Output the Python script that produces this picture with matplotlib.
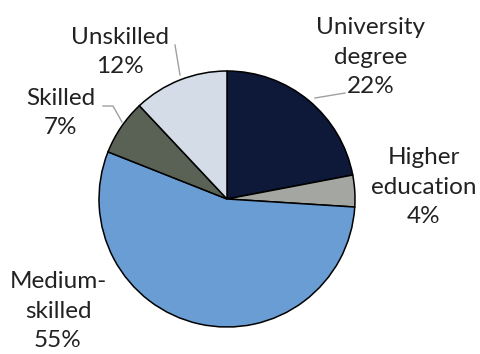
import matplotlib.pyplot as plt

# share of workers by skill level
categories = ['University\ndegree', 'Higher\neducation', 'Medium-\nskilled', 'Skilled', 'Unskilled']
shares = [22, 4, 55, 7, 12]
colors = ['#0e1838', '#a4a6a1', '#6a9dd3', '#5a6255', '#d4dce7']

plt.rcParams['font.family'] = ['Lato', 'DejaVu Sans']

W, H = 481, 354
fig = plt.figure(figsize=(W / 100, H / 100), dpi=100)
ax = fig.add_axes([0, 0, 1, 1])

cx, cy, r = 227, H - 199, 128
ax.pie(shares, colors=colors, startangle=90, counterclock=False,
       center=(cx, cy), radius=r,
       wedgeprops=dict(edgecolor='black', linewidth=1.1))
ax.set_xlim(0, W)
ax.set_ylim(0, H)
ax.set_aspect('equal')
ax.axis('off')

# label block positions (pixel coords, y measured from top)
label_pos = [(371, 57), (424, 187), (58, 311), (61, 113), (120, 52)]
for name, v, (x, y) in zip(categories, shares, label_pos):
    ax.text(x, H - y, f'{name}\n{v}%', ha='center', va='center',
            fontsize=17.5, color='#222222', linespacing=1.5)

# leader lines
lc = '#a0a0a0'
ax.plot([315, 345], [H - 98, H - 93], color=lc, lw=1)
ax.plot([180, 175], [H - 75, H - 45], color=lc, lw=1)
ax.plot([103, 113, 122], [H - 106, H - 106, H - 122], color=lc, lw=1)

fig.savefig('out.png', dpi=100)
